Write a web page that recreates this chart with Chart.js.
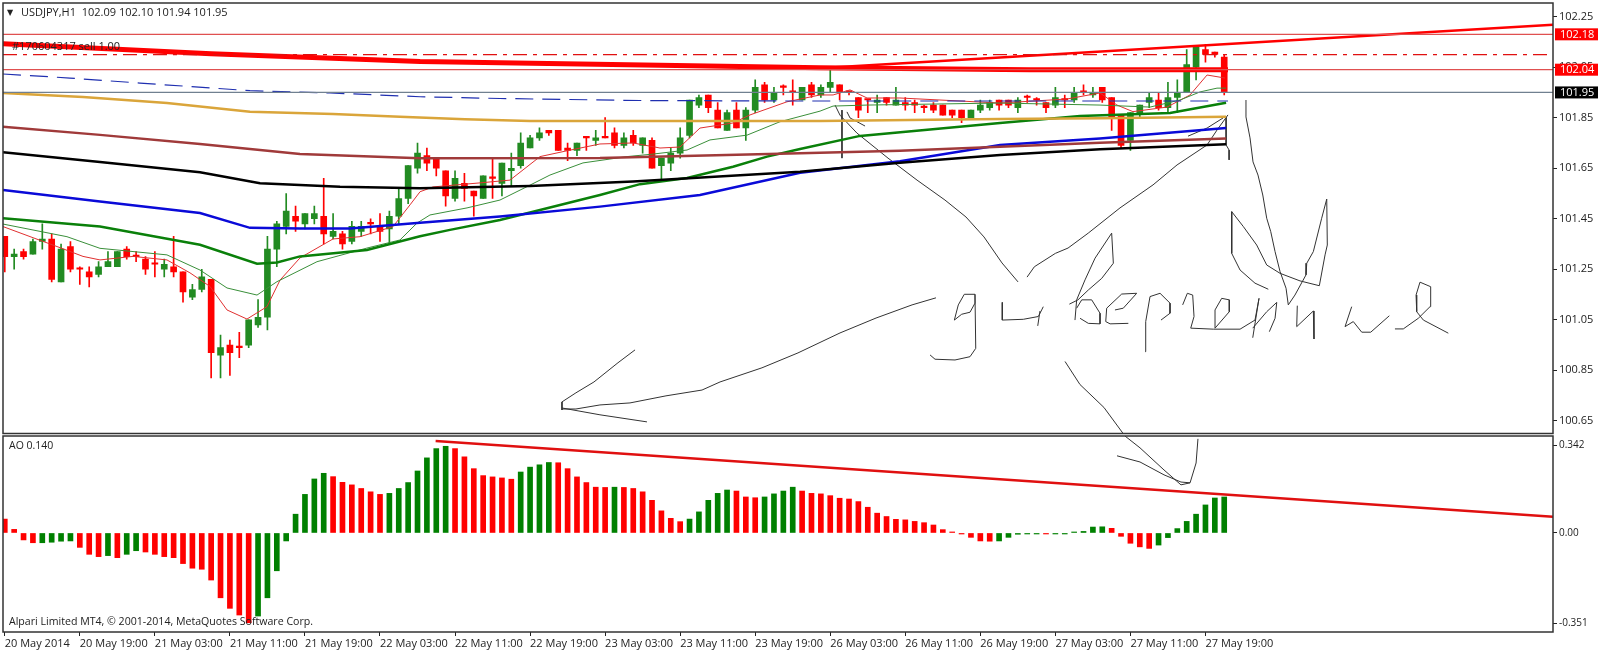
<!DOCTYPE html>
<html>
<head>
<meta charset="utf-8">
<title>USDJPY,H1</title>
<script src="https://cdn.jsdelivr.net/npm/chart.js@4/dist/chart.umd.min.js"></script>
<style>
	html, body { margin:0; padding:0; background:#fff; overflow:hidden; }
	canvas { position:absolute; left:0; }
	#priceChart { top:0; }
	#aoChart { top:435px; }
</style>
</head>
<body>
<canvas id="priceChart" width="1600" height="435"></canvas>
<canvas id="aoChart" width="1600" height="218"></canvas>
<script>
/*candles, one value per hour*/
let opens = [101.38,101.30,101.32,101.31,101.36,101.37,101.20,101.34,101.25,101.24,
	101.23,101.26,101.26,101.33,101.30,101.29,101.27,101.25,101.26,101.24,
	101.14,101.17,101.21,100.91,100.95,100.94,100.95,101.03,101.06,101.33,
	101.42,101.46,101.43,101.45,101.46,101.38,101.39,101.36,101.40,101.43,
	101.42,101.41,101.46,101.53,101.65,101.70,101.69,101.64,101.53,101.59,
	101.56,101.53,101.61,101.59,101.64,101.66,101.73,101.77,101.80,101.80,
	101.73,101.72,101.77,101.76,101.77,101.79,101.74,101.78,101.74,101.76,
	101.66,101.67,101.71,101.78,101.90,101.94,101.88,101.80,101.88,101.81,
	101.88,101.98,101.92,101.97,101.95,101.92,101.98,101.94,101.97,101.98,
	101.95,101.93,101.92,101.91,101.93,101.90,101.91,101.91,101.89,101.90,
	101.90,101.88,101.88,101.85,101.88,101.89,101.92,101.92,101.89,101.93,
	101.92,101.91,101.90,101.92,101.92,101.95,101.94,101.97,101.93,101.86,
	101.76,101.87,101.91,101.92,101.89,101.93,101.95,102.05,102.12,102.11,102.09];
let highs = [101.38,101.33,101.33,101.37,101.43,101.39,101.35,101.36,101.26,101.26,
	101.28,101.32,101.32,101.34,101.32,101.30,101.32,101.29,101.38,101.24,
	101.19,101.25,101.21,100.99,100.97,101.00,101.05,101.13,101.38,101.44,
	101.55,101.50,101.47,101.50,101.61,101.47,101.40,101.44,101.44,101.45,
	101.47,101.48,101.57,101.66,101.75,101.73,101.69,101.64,101.64,101.63,
	101.56,101.62,101.69,101.67,101.71,101.79,101.78,101.81,101.80,101.80,
	101.75,101.75,101.77,101.80,101.85,101.81,101.79,101.80,101.77,101.77,
	101.69,101.73,101.81,101.92,101.94,101.94,101.91,101.88,101.91,101.89,
	102.00,101.99,101.97,101.98,102.00,101.97,101.99,101.98,102.04,101.98,
	101.95,101.93,101.92,101.94,101.93,101.97,101.93,101.92,101.90,101.91,
	101.90,101.88,101.88,101.88,101.92,101.92,101.92,101.92,101.93,101.94,
	101.93,101.91,101.97,101.94,101.97,101.98,101.97,101.97,101.93,101.86,
	101.87,101.90,101.95,101.95,101.99,102.00,102.12,102.13,102.14,102.11,102.10];
let lows = [101.24,101.25,101.29,101.31,101.33,101.20,101.20,101.24,101.19,101.18,
	101.22,101.26,101.26,101.29,101.28,101.23,101.22,101.22,101.22,101.12,
	101.13,101.16,100.82,100.82,100.83,100.90,100.94,101.02,101.01,101.26,
	101.39,101.40,101.41,101.43,101.35,101.37,101.33,101.35,101.38,101.39,
	101.36,101.35,101.43,101.51,101.63,101.64,101.62,101.50,101.52,101.52,
	101.46,101.53,101.53,101.54,101.58,101.65,101.73,101.76,101.78,101.72,
	101.68,101.70,101.72,101.74,101.77,101.73,101.73,101.74,101.71,101.65,
	101.60,101.64,101.69,101.77,101.89,101.87,101.81,101.80,101.81,101.76,
	101.87,101.91,101.91,101.94,101.90,101.92,101.93,101.93,101.95,101.92,
	101.94,101.85,101.87,101.87,101.90,101.90,101.88,101.87,101.87,101.87,
	101.86,101.85,101.83,101.85,101.87,101.88,101.88,101.89,101.87,101.91,
	101.90,101.87,101.89,101.89,101.91,101.94,101.93,101.91,101.80,101.73,
	101.72,101.85,101.89,101.88,101.87,101.87,101.95,102.00,102.07,102.09,101.94];
let closes = [101.30,101.31,101.30,101.36,101.37,101.21,101.33,101.25,101.25,101.22,
	101.26,101.28,101.32,101.30,101.30,101.25,101.27,101.27,101.24,101.16,
	101.17,101.22,100.92,100.94,100.92,100.94,101.05,101.06,101.33,101.43,
	101.48,101.44,101.47,101.47,101.39,101.40,101.35,101.42,101.42,101.43,
	101.40,101.46,101.53,101.66,101.71,101.67,101.65,101.54,101.61,101.57,
	101.54,101.62,101.61,101.67,101.65,101.75,101.77,101.79,101.79,101.72,
	101.72,101.75,101.77,101.77,101.77,101.74,101.77,101.75,101.77,101.65,
	101.69,101.71,101.77,101.92,101.93,101.89,101.81,101.87,101.81,101.88,
	101.97,101.92,101.95,101.97,101.95,101.97,101.94,101.97,101.99,101.95,
	101.95,101.88,101.92,101.92,101.91,101.92,101.90,101.90,101.89,101.88,
	101.86,101.86,101.85,101.88,101.90,101.91,101.90,101.90,101.92,101.93,
	101.92,101.89,101.93,101.92,101.95,101.95,101.95,101.92,101.85,101.74,
	101.87,101.90,101.93,101.89,101.93,101.95,102.06,102.13,102.10,102.10,101.95];

/*awesome oscillator*/
let aoValues = [0.054,0.014,-0.027,-0.038,-0.038,-0.036,-0.032,-0.031,-0.056,-0.083,
	-0.092,-0.088,-0.096,-0.083,-0.069,-0.074,-0.083,-0.092,-0.096,-0.119,
	-0.137,-0.141,-0.183,-0.252,-0.293,-0.319,-0.349,-0.323,-0.252,-0.147,
	-0.031,0.073,0.150,0.210,0.232,0.219,0.197,0.187,0.173,0.160,
	0.150,0.154,0.173,0.196,0.241,0.292,0.328,0.337,0.328,0.296,
	0.250,0.223,0.218,0.214,0.209,0.237,0.256,0.265,0.274,0.273,
	0.250,0.218,0.196,0.178,0.177,0.178,0.177,0.173,0.160,0.127,
	0.086,0.057,0.044,0.054,0.082,0.127,0.154,0.167,0.163,0.140,
	0.137,0.140,0.152,0.163,0.178,0.163,0.154,0.152,0.145,0.135,
	0.132,0.122,0.100,0.077,0.064,0.053,0.051,0.045,0.040,0.031,
	0.013,0.004,-0.004,-0.017,-0.031,-0.032,-0.031,-0.017,-0.005,-0.002,
	-0.001,-0.003,-0.002,-0.001,0.002,0.006,0.023,0.024,0.018,-0.013,
	-0.040,-0.054,-0.060,-0.047,-0.018,0.017,0.045,0.073,0.109,0.136,0.140];

/*axis labels*/
let timeTicks = [0,8,16,24,32,40,48,56,64,72,80,88,96,104,112,120,128];
let timeLabels = ['20 May 2014','20 May 19:00','21 May 03:00','21 May 11:00','21 May 19:00','22 May 03:00',
	'22 May 11:00','22 May 19:00','23 May 03:00','23 May 11:00','23 May 19:00','26 May 03:00',
	'26 May 11:00','26 May 19:00','27 May 03:00','27 May 11:00','27 May 19:00'];
let priceTicks = [102.25,102.05,101.85,101.65,101.45,101.25,101.05,100.85,100.65];
let aoTicks = [0.342,0,-0.351];
let aoTickLabels = ['0.342','0.00','-0.351'];

/*moving averages: bar position, price*/
let goldBars = [-0.19,8.34,17.29,26.14,34.99,42.13,49.06,56.0,68.79,86.91,106.1,116.76,130.2];
let goldVals = [101.948,101.932,101.908,101.874,101.865,101.854,101.844,101.837,101.837,101.837,101.845,101.848,101.854];
let maroonBars = [-0.19,10.15,20.81,31.47,44.27,63.45,84.78,95.43,106.1,116.76,130.2];
let maroonVals = [101.814,101.782,101.746,101.706,101.689,101.690,101.709,101.719,101.735,101.751,101.768];
let blackBars = [-0.19,10.15,20.81,27.21,35.74,44.27,56.0,66.97,84.78,95.43,106.1,116.76,130.2];
let blackVals = [101.713,101.675,101.634,101.591,101.577,101.571,101.580,101.597,101.636,101.672,101.702,101.725,101.745];
let blueBars = [-0.19,10.15,20.81,26.14,31.47,36.8,44.27,52.79,63.45,74.11,84.78,95.43,106.1,116.76,130.2];
let blueVals = [101.564,101.518,101.473,101.414,101.411,101.411,101.434,101.459,101.498,101.544,101.632,101.678,101.742,101.768,101.809];
let greenBars = [-0.19,10.15,20.81,26.89,29.02,31.47,38.61,44.27,47.46,52.79,56.31,63.45,67.72,72.73,77.63,81.26,84.78,91.18,106.1,114.63,124.22,130.2];
let greenVals = [101.452,101.419,101.347,101.272,101.277,101.301,101.326,101.381,101.406,101.445,101.478,101.544,101.587,101.611,101.656,101.696,101.726,101.778,101.829,101.857,101.869,101.909];
let thinGreenBars = [-0.19,6.63,10.15,17.29,20.81,23.69,26.89,29.02,33.28,38.61,42.13,43.95,45.33,49.28,52.79,55.67,58.12,61.64,66.33,69.1,72.73,75.18,79.13,82.64,86.91,88.3,91.92,106.1,116.76,122.09,125.29,127.42,129.23,130.2];
let thinGreenVals = [101.429,101.379,101.333,101.307,101.247,101.176,101.148,101.201,101.280,101.334,101.366,101.433,101.465,101.493,101.524,101.577,101.623,101.671,101.696,101.706,101.722,101.762,101.781,101.834,101.876,101.896,101.900,101.908,101.900,101.892,101.920,101.952,101.967,101.967];
let thinRedBars = [-0.19,3.01,5.57,8.34,10.15,13.67,17.29,19.74,21.88,23.69,25.82,27.95,29.34,31.47,34.99,37.87,41.39,43.2,44.27,45.65,50.66,53.86,57.06,59.93,63.45,66.97,69.85,71.98,74.11,77.63,79.45,83.39,86.91,88.3,90.11,91.92,95.43,106.1,113.24,116.76,118.57,120.27,123.9,126.36,128.17,130.09];
let thinRedVals = [101.419,101.375,101.340,101.301,101.287,101.301,101.287,101.236,101.182,101.089,101.053,101.102,101.207,101.295,101.370,101.379,101.419,101.505,101.557,101.576,101.592,101.603,101.696,101.719,101.746,101.750,101.730,101.734,101.809,101.829,101.861,101.913,101.940,101.940,101.960,101.928,101.928,101.908,101.924,101.948,101.900,101.874,101.892,101.940,102.019,102.007];
let dashBlueBars = [-0.19,6.95,14.41,26.14,34.67,44.27,52.79,67.72,84.78,130.4];
let dashBlueVals = [102.023,102.007,101.987,101.957,101.948,101.933,101.926,101.918,101.916,101.916];

/*trend lines and order levels*/
let thickTrendBars = [-0.19,22,44.27,86.91,109.3,130.4];
let thickTrendVals = [102.143,102.103,102.072,102.048,102.040,102.040];
let upperTrendBars = [85.84,165.05];
let upperTrendVals = [102.044,102.218];
let aoTrendBars = [45.93,165.05];
let aoTrendVals = [0.358,0.063];
let takeProfit = 102.18;
let orderOpen = 102.10;
let stopLoss = 102.04;
let lastPrice = 101.95;

/*hand drawn strokes on the price pane: [bar, price]*/
let priceStrokes = [
	[[99.27,101.137],[96.72,101.109],[92.88,101.057],[89.04,100.998],[84.56,100.919],[80.72,100.860],[76.25,100.804],[74.33,100.772],[70.49,100.749],[66.65,100.721],[63.45,100.713],[60.89,100.697],[59.40,100.697]],
	[[67.19,100.931],[65.37,100.880],[62.81,100.804],[60.89,100.761],[59.40,100.725],[59.40,100.693]],
	[[59.40,100.701],[63.45,100.674],[68.46,100.646]],
	[[88.51,101.900],[89.04,101.860],[90.85,101.789],[94.16,101.690],[97.25,101.603],[100.23,101.524],[102.47,101.457],[104.39,101.378],[106.31,101.275],[108.02,101.200]],
	[[89.25,101.880],[89.25,101.690]],
	[[89.78,101.873],[90.11,101.849],[91.71,101.817]],
	[[108.98,101.219],[109.76,101.260],[112.0,101.313],[113.35,101.334],[115.5,101.393],[118.89,101.493],[122.41,101.584],[124.97,101.663],[128.17,101.742],[129.23,101.801],[130.40,101.861]],
	[[126.14,101.777],[128.17,101.809],[129.88,101.849]],
	[[130.20,101.853],[130.20,101.742],[130.52,101.722],[130.52,101.683]],
	[[103.43,101.151],[102.29,101.151],[101.65,101.109],[101.23,101.049],[102.01,101.072],[102.90,101.080],[103.43,101.116],[103.43,101.151],[103.51,100.937],[102.90,100.904],[101.30,100.891],[99.17,100.894],[98.64,100.911]],
	[[106.34,101.119],[106.34,101.049],[108.58,101.052],[110.18,101.063],[110.54,101.089],[110.71,101.102]],
	[[110.36,101.085],[110.12,101.026]],
	[[118.0,101.393],[116.23,101.294],[115.16,101.208],[114.27,101.129],[114.09,101.049]],
	[[118.0,101.393],[118.18,101.274],[116.94,101.214],[115.51,101.168],[114.41,101.129],[113.49,101.112]],
	[[114.27,101.096],[114.81,101.129],[115.87,101.129],[116.76,101.076],[116.76,101.034],[115.51,101.036],[114.63,101.056]],
	[[118.35,101.089],[119.24,101.096],[120.67,101.155],[119.07,101.152],[117.47,101.096],[117.37,101.043],[117.83,101.034],[119.78,101.036]],
	[[121.56,100.924],[121.63,101.043],[122.09,101.142],[123.16,101.155],[124.22,101.116],[124.22,101.076],[123.26,101.049]],
	[[125.57,101.109],[126.07,101.155],[126.64,101.148],[126.78,101.063],[126.43,101.017],[128.84,101.013],[131.69,101.013],[133.28,101.049],[133.71,101.135],[133.04,100.979]],
	[[129.02,101.017],[129.02,101.089],[129.73,101.135],[130.54,101.129],[130.54,101.082],[129.02,101.017]],
	[[133.04,101.017],[134.53,101.082],[135.6,101.119],[135.42,101.056],[134.81,101.003]],
	[[137.79,101.106],[137.73,101.023],[139.5,101.085],[139.57,100.974]],
	[[143.59,101.102],[142.88,101.023],[143.76,101.043],[144.66,101.001],[145.62,101.001],[147.6,101.066]],
	[[148.2,101.014],[149.09,101.014],[150.69,101.056],[151.94,101.102],[152.01,101.181],[150.87,101.199],[150.45,101.148],[150.52,101.082],[151.23,101.049],[153.89,100.997]],
	[[130.8,101.478],[130.8,101.313],[131.69,101.247],[133.28,101.195],[134.7,101.171]],
	[[130.8,101.478],[132.04,101.419],[133.46,101.346],[134.53,101.267],[135.95,101.234],[138.08,101.204],[140.14,101.185],[140.75,101.307],[140.99,101.346],[140.93,101.528]],
	[[140.93,101.528],[140.39,101.452],[139.5,101.320],[138.8,101.274],[138.72,101.228],[137.54,101.148],[136.83,101.109],[136.59,101.175],[135.95,101.241],[135.42,101.320],[134.96,101.399],[134.53,101.452],[134.11,101.544],[133.60,101.623],[133.07,101.675],[132.75,101.770],[132.32,101.853],[132.32,101.920]],
	[[113.03,100.885],[114.62,100.794],[117.18,100.703],[119.42,100.590]]
];
/*the same scribble continued in the oscillator pane: [bar, AO]*/
let aoStrokes = [
	[[119.42,0.377],[121.02,0.331],[123.58,0.245],[125.39,0.187],[126.36,0.195]],
	[[118.57,0.300],[121.02,0.276],[123.58,0.226],[125.39,0.198],[126.36,0.195],[127.0,0.272],[127.2,0.366]]
];

const RED = '#ff0000';
const CANDLE_GREEN = '#228b22';
const AO_GREEN = '#008000';
const TEXT_COLOR = '#222';
const BAR_MIN = -0.19;
const BAR_MAX = 165.05;
const TEXT_FONT = '11px "Open Sans"';

function zipPoints(bars, vals){
	return bars.map(function(bar, i){ return {x:bar, y:vals[i]}; });
}

function lineSet(points, color, width, dash){
	return {
		type:'line',
		data:points,
		borderColor:color,
		borderWidth:width,
		borderDash:dash || [],
		pointRadius:0,
		tension:0,
		order:1
	};
}

function levelSet(value, color, width, dash){
	return lineSet([{x:BAR_MIN, y:value},{x:BAR_MAX, y:value}], color, width, dash);
}

function strokePoints(stroke){
	return stroke.map(function(p){ return {x:p[0], y:p[1]}; });
}

/*pane frame and the texts MT4 writes over the chart*/
function paneDecor(texts, tags){
	return {
		id:'paneDecor',
		afterDraw:function(chart){
			let ctx = chart.ctx;
			let area = chart.chartArea;
			ctx.save();
			ctx.strokeStyle = '#333';
			ctx.lineWidth = 1.5;
			ctx.strokeRect(area.left, area.top, area.right-area.left, area.bottom-area.top);
			ctx.textBaseline = 'middle';
			texts.forEach(function(t){
				ctx.font = t.font || TEXT_FONT;
				ctx.fillStyle = t.color || TEXT_COLOR;
				ctx.fillText(t.text, t.x, t.y);
			});
			tags.forEach(function(t){
				let y = chart.scales.y.getPixelForValue(t.value);
				ctx.fillStyle = t.color;
				ctx.fillRect(1555, y-6, 43, 12);
				ctx.fillStyle = '#fff';
				ctx.font = TEXT_FONT;
				ctx.fillText(t.value.toFixed(2), 1560, y+0.5);
			});
			ctx.restore();
		}
	};
}

function sideAxis(min, max, values, format, fontSize){
	return {
		type:'linear',
		position:'right',
		min:min,
		max:max,
		afterBuildTicks:function(axis){
			axis.ticks = values.map(function(v){ return {value:v}; });
		},
		afterFit:function(axis){
			axis.width = 47;
			axis.paddingTop = 0;
			axis.paddingBottom = 0;
		},
		border:{display:false},
		grid:{drawOnChartArea:false, drawTicks:true, tickLength:4, color:'#222'},
		ticks:{padding:2, color:TEXT_COLOR, font:{family:'Open Sans', size:fontSize}, callback:format}
	};
}

/*price pane*/
let barIndex = opens.map(function(v, i){ return i; });
let candleColors = opens.map(function(v, i){ return closes[i] > opens[i] ? CANDLE_GREEN : RED; });

let priceSets = [
	{
		type:'bar',
		data:barIndex.map(function(i){ return {x:i, y:[lows[i], highs[i]]}; }),
		backgroundColor:candleColors,
		barThickness:1,
		grouped:false,
		order:5
	},
	{
		type:'bar',
		data:barIndex.map(function(i){ return {x:i, y:[opens[i], closes[i]]}; }),
		backgroundColor:candleColors,
		barThickness:6,
		minBarLength:1.5,
		grouped:false,
		order:4
	},
	levelSet(takeProfit, '#e05050', 1.2),
	levelSet(stopLoss, '#e05050', 1.2),
	levelSet(lastPrice, '#708090', 1.2),
	levelSet(orderOpen, '#e01010', 1.2, [14,6,4,6]),
	lineSet(zipPoints(dashBlueBars, dashBlueVals), '#1f2fb0', 1.2, [18,9]),
	lineSet(zipPoints(goldBars, goldVals), '#daa53a', 2.5),
	lineSet(zipPoints(maroonBars, maroonVals), '#a03a3a', 2.5),
	lineSet(zipPoints(blackBars, blackVals), '#000', 2.5),
	lineSet(zipPoints(blueBars, blueVals), '#0a0ad8', 2.5),
	lineSet(zipPoints(greenBars, greenVals), '#0a800a', 2.5),
	lineSet(zipPoints(thinGreenBars, thinGreenVals), '#3a8f3a', 1),
	lineSet(zipPoints(thinRedBars, thinRedVals), '#e03030', 1),
	lineSet(zipPoints(thickTrendBars, thickTrendVals), RED, 5),
	lineSet(zipPoints(upperTrendBars, upperTrendVals), RED, 2.5)
];
priceStrokes.forEach(function(stroke){
	priceSets.push(lineSet(strokePoints(stroke), '#333', 1));
});

new Chart(document.getElementById('priceChart'), {
	data:{datasets:priceSets},
	options:{
		responsive:false,
		animation:false,
		layout:{padding:{left:3, top:3, right:0, bottom:1.5}},
		plugins:{legend:{display:false}, tooltip:{enabled:false}},
		scales:{
			x:{type:'linear', display:false, offset:false, min:BAR_MIN, max:BAR_MAX},
			y:sideAxis(100.60, 102.304, priceTicks, function(v){ return v.toFixed(2); }, 11)
		}
	},
	plugins:[paneDecor([
		{text:'▼', x:7, y:13, font:'8px "DejaVu Sans"'},
		{text:'USDJPY,H1  102.09 102.10 101.94 101.95', x:21, y:13},
		{text:'#170604317 sell 1.00', x:12, y:47}
	], [
		{value:takeProfit, color:RED},
		{value:stopLoss, color:RED},
		{value:lastPrice, color:'#000'}
	])]
});

/*AO pane*/
let aoColors = aoValues.map(function(v, i){ return i === 0 || v < aoValues[i-1] ? RED : AO_GREEN; });
let aoSets = [
	{
		type:'bar',
		data:aoValues.map(function(v, i){ return {x:i, y:v}; }),
		backgroundColor:aoColors,
		barThickness:5,
		minBarLength:1,
		grouped:false,
		order:4
	},
	lineSet(zipPoints(aoTrendBars, aoTrendVals), '#e01010', 2.5)
];
aoStrokes.forEach(function(stroke){
	aoSets.push(lineSet(strokePoints(stroke), '#333', 1));
});

new Chart(document.getElementById('aoChart'), {
	data:{datasets:aoSets},
	options:{
		responsive:false,
		animation:false,
		layout:{padding:{left:3, top:1, right:0, bottom:0}},
		plugins:{legend:{display:false}, tooltip:{enabled:false}},
		scales:{
			x:{
				type:'linear',
				offset:false,
				min:BAR_MIN,
				max:BAR_MAX,
				afterBuildTicks:function(axis){
					axis.ticks = timeTicks.map(function(v){ return {value:v}; });
				},
				afterFit:function(axis){
					axis.height = 21;
					axis.paddingLeft = 0;
					axis.paddingRight = 0;
				},
				border:{display:false},
				grid:{drawOnChartArea:false, offset:false, tickLength:4, color:'#222'},
				ticks:{
					align:'start',
					autoSkip:false,
					maxRotation:0,
					padding:1,
					color:TEXT_COLOR,
					font:{family:'Open Sans', size:11},
					callback:function(v){ return timeLabels[timeTicks.indexOf(v)]; }
				}
			},
			y:sideAxis(-0.385, 0.377, aoTicks, function(v){ return aoTickLabels[aoTicks.indexOf(v)]; }, 10)
		}
	},
	plugins:[paneDecor([
		{text:'AO 0.140', x:9, y:11, font:'10.5px "Open Sans"'},
		{text:'Alpari Limited MT4, © 2001-2014, MetaQuotes Software Corp.', x:9, y:187, font:'10.6px "Open Sans"'}
	], [])]
});
</script>
</body>
</html>
